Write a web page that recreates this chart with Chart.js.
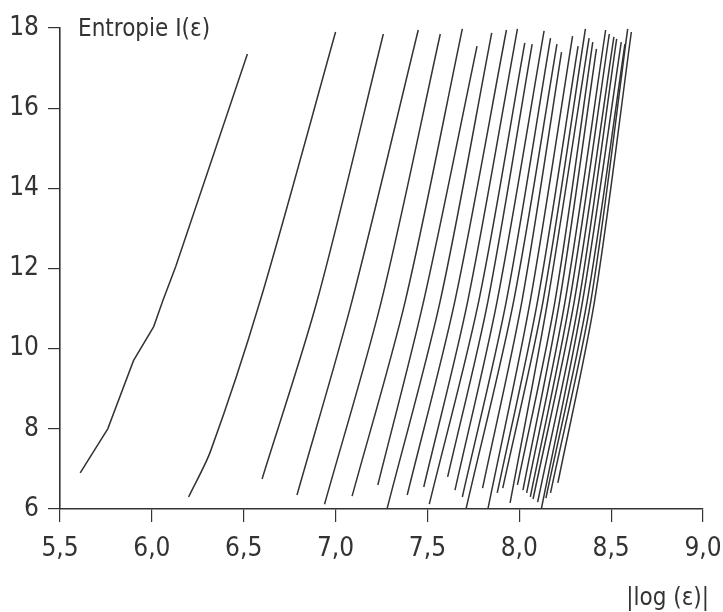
<!DOCTYPE html>
<html>
<head>
<meta charset="utf-8">
<script src="https://cdn.jsdelivr.net/npm/chart.js@4.4.1/dist/chart.umd.min.js"></script>
<style>
  body { margin: 0; background: #fff; }
  canvas { display: block; }
</style>
</head>
<body>
<canvas id="entropyChart" width="723" height="612"></canvas>
<script>
// Werte
var xTicks = [5.5, 6.0, 6.5, 7.0, 7.5, 8.0, 8.5, 9.0];
var yTicks = [6, 8, 10, 12, 14, 16, 18];

// x-Werte je Kurve (|log ε|)
var curveX = [
    [5.61, 5.76, 5.90, 6.01, 6.06, 6.13, 6.34, 6.52],
    [6.20, 6.32, 6.59, 7.00],
    [6.60, 6.90, 7.26],
    [6.79, 7.09, 7.45],
    [6.94, 7.25, 7.57],
    [7.09, 7.38, 7.69],
    [7.23, 7.48, 7.77],
    [7.28, 7.57, 7.85],
    [7.39, 7.65, 7.93],
    [7.48, 7.72, 7.99],
    [7.51, 7.78, 8.03],
    [7.61, 7.83, 8.07],
    [7.65, 7.88, 8.135],
    [7.69, 7.93, 8.17],
    [7.71, 7.97, 8.205],
    [7.80, 8.015, 8.23],
    [7.83, 8.06, 8.29],
    [7.88, 8.10, 8.32],
    [7.91, 8.13, 8.36],
    [7.95, 8.155, 8.38],
    [7.99, 8.195, 8.40],
    [8.02, 8.22, 8.42],
    [8.04, 8.25, 8.47],
    [8.06, 8.275, 8.49],
    [8.075, 8.30, 8.515],
    [8.10, 8.325, 8.53],
    [8.12, 8.345, 8.555],
    [8.145, 8.37, 8.575],
    [8.17, 8.39, 8.59],
    [8.21, 8.41, 8.61]
];

// Entropie I(ε) je Kurve
var curveY = [
    [6.9, 8.0, 9.7, 10.55, 11.2, 12.05, 14.9, 17.35],
    [6.3, 7.45, 11.2, 17.9],
    [6.75, 11.2, 17.85],
    [6.35, 11.2, 17.95],
    [6.12, 11.2, 17.85],
    [6.32, 11.2, 17.98],
    [6.6, 11.2, 17.55],
    [6.0, 11.2, 17.88],
    [6.35, 11.2, 17.95],
    [6.55, 11.2, 17.98],
    [6.12, 11.2, 17.63],
    [6.8, 11.2, 17.6],
    [6.47, 11.2, 17.93],
    [6.3, 11.2, 17.75],
    [6.0, 11.2, 17.6],
    [6.52, 11.2, 17.4],
    [6.02, 11.2, 17.8],
    [6.4, 11.2, 17.55],
    [6.52, 11.2, 17.98],
    [6.15, 11.2, 17.75],
    [6.6, 11.2, 17.65],
    [6.47, 11.2, 17.48],
    [6.4, 11.2, 17.95],
    [6.3, 11.2, 17.85],
    [6.25, 11.2, 17.78],
    [6.17, 11.2, 17.73],
    [6.0, 11.2, 17.65],
    [6.27, 11.2, 17.6],
    [6.4, 11.2, 17.98],
    [6.65, 11.2, 17.9]
];

var fontFamily = "'Liberation Sans Narrow', 'DejaVu Sans Condensed', 'Liberation Sans', sans-serif";
var inkColor = '#333';

// Datensätze aufbauen
var datasets = curveX.map(function (xs, i) {
    return {
        data: xs.map(function (x, j) { return { x: x, y: curveY[i][j] }; }),
        showLine: true,
        borderColor: inkColor,
        borderWidth: 1.5,
        pointRadius: 0,
        tension: i === 0 ? 0 : 0.3,
        fill: false
    };
});

// Achsentitel als Text
var axisTexts = {
    id: 'axisTexts',
    afterDraw: function (chart) {
        var c = chart.ctx;
        c.save();
        c.fillStyle = inkColor;
        c.font = '24px ' + fontFamily;
        c.textAlign = 'left';
        c.textBaseline = 'alphabetic';
        c.fillText('Entropie I(ε)', 78, 36);
        c.textAlign = 'right';
        c.fillText('|log (ε)|', 709, 605);
        c.restore();
    }
};

var ctx = document.getElementById('entropyChart').getContext('2d');
var entropyChart = new Chart(ctx, {
    type: 'scatter',
    data: { datasets: datasets },
    options: {
        responsive: false,
        animation: false,
        layout: { padding: { top: 28, right: 20, left: 0, bottom: 0 } },
        plugins: {
            legend: { display: false },
            tooltip: { enabled: false }
        },
        scales: {
            x: {
                type: 'linear',
                min: 5.5,
                max: 9.0,
                afterFit: function (s) { s.height = 103; s.paddingLeft = 0; s.paddingRight = 0; },
                afterBuildTicks: function (s) { s.ticks = xTicks.map(function (v) { return { value: v }; }); },
                ticks: {
                    color: inkColor,
                    font: { family: fontFamily, size: 26 },
                    padding: 12,
                    maxRotation: 0,
                    callback: function (v) { return v.toFixed(1).replace('.', ','); }
                },
                grid: { drawOnChartArea: false, drawTicks: true, tickLength: 13, color: inkColor, lineWidth: 1.2 },
                border: { display: true, color: inkColor, width: 1.6 }
            },
            y: {
                type: 'linear',
                min: 6,
                max: 18,
                afterFit: function (s) { s.width = 60; s.paddingTop = 0; s.paddingBottom = 0; },
                afterBuildTicks: function (s) { s.ticks = yTicks.map(function (v) { return { value: v }; }); },
                ticks: {
                    color: inkColor,
                    font: { family: fontFamily, size: 26 },
                    padding: 9
                },
                grid: { drawOnChartArea: false, drawTicks: true, tickLength: 12, color: inkColor, lineWidth: 1.2 },
                border: { display: true, color: inkColor, width: 1.6 }
            }
        }
    },
    plugins: [axisTexts]
});
</script>
</body>
</html>
